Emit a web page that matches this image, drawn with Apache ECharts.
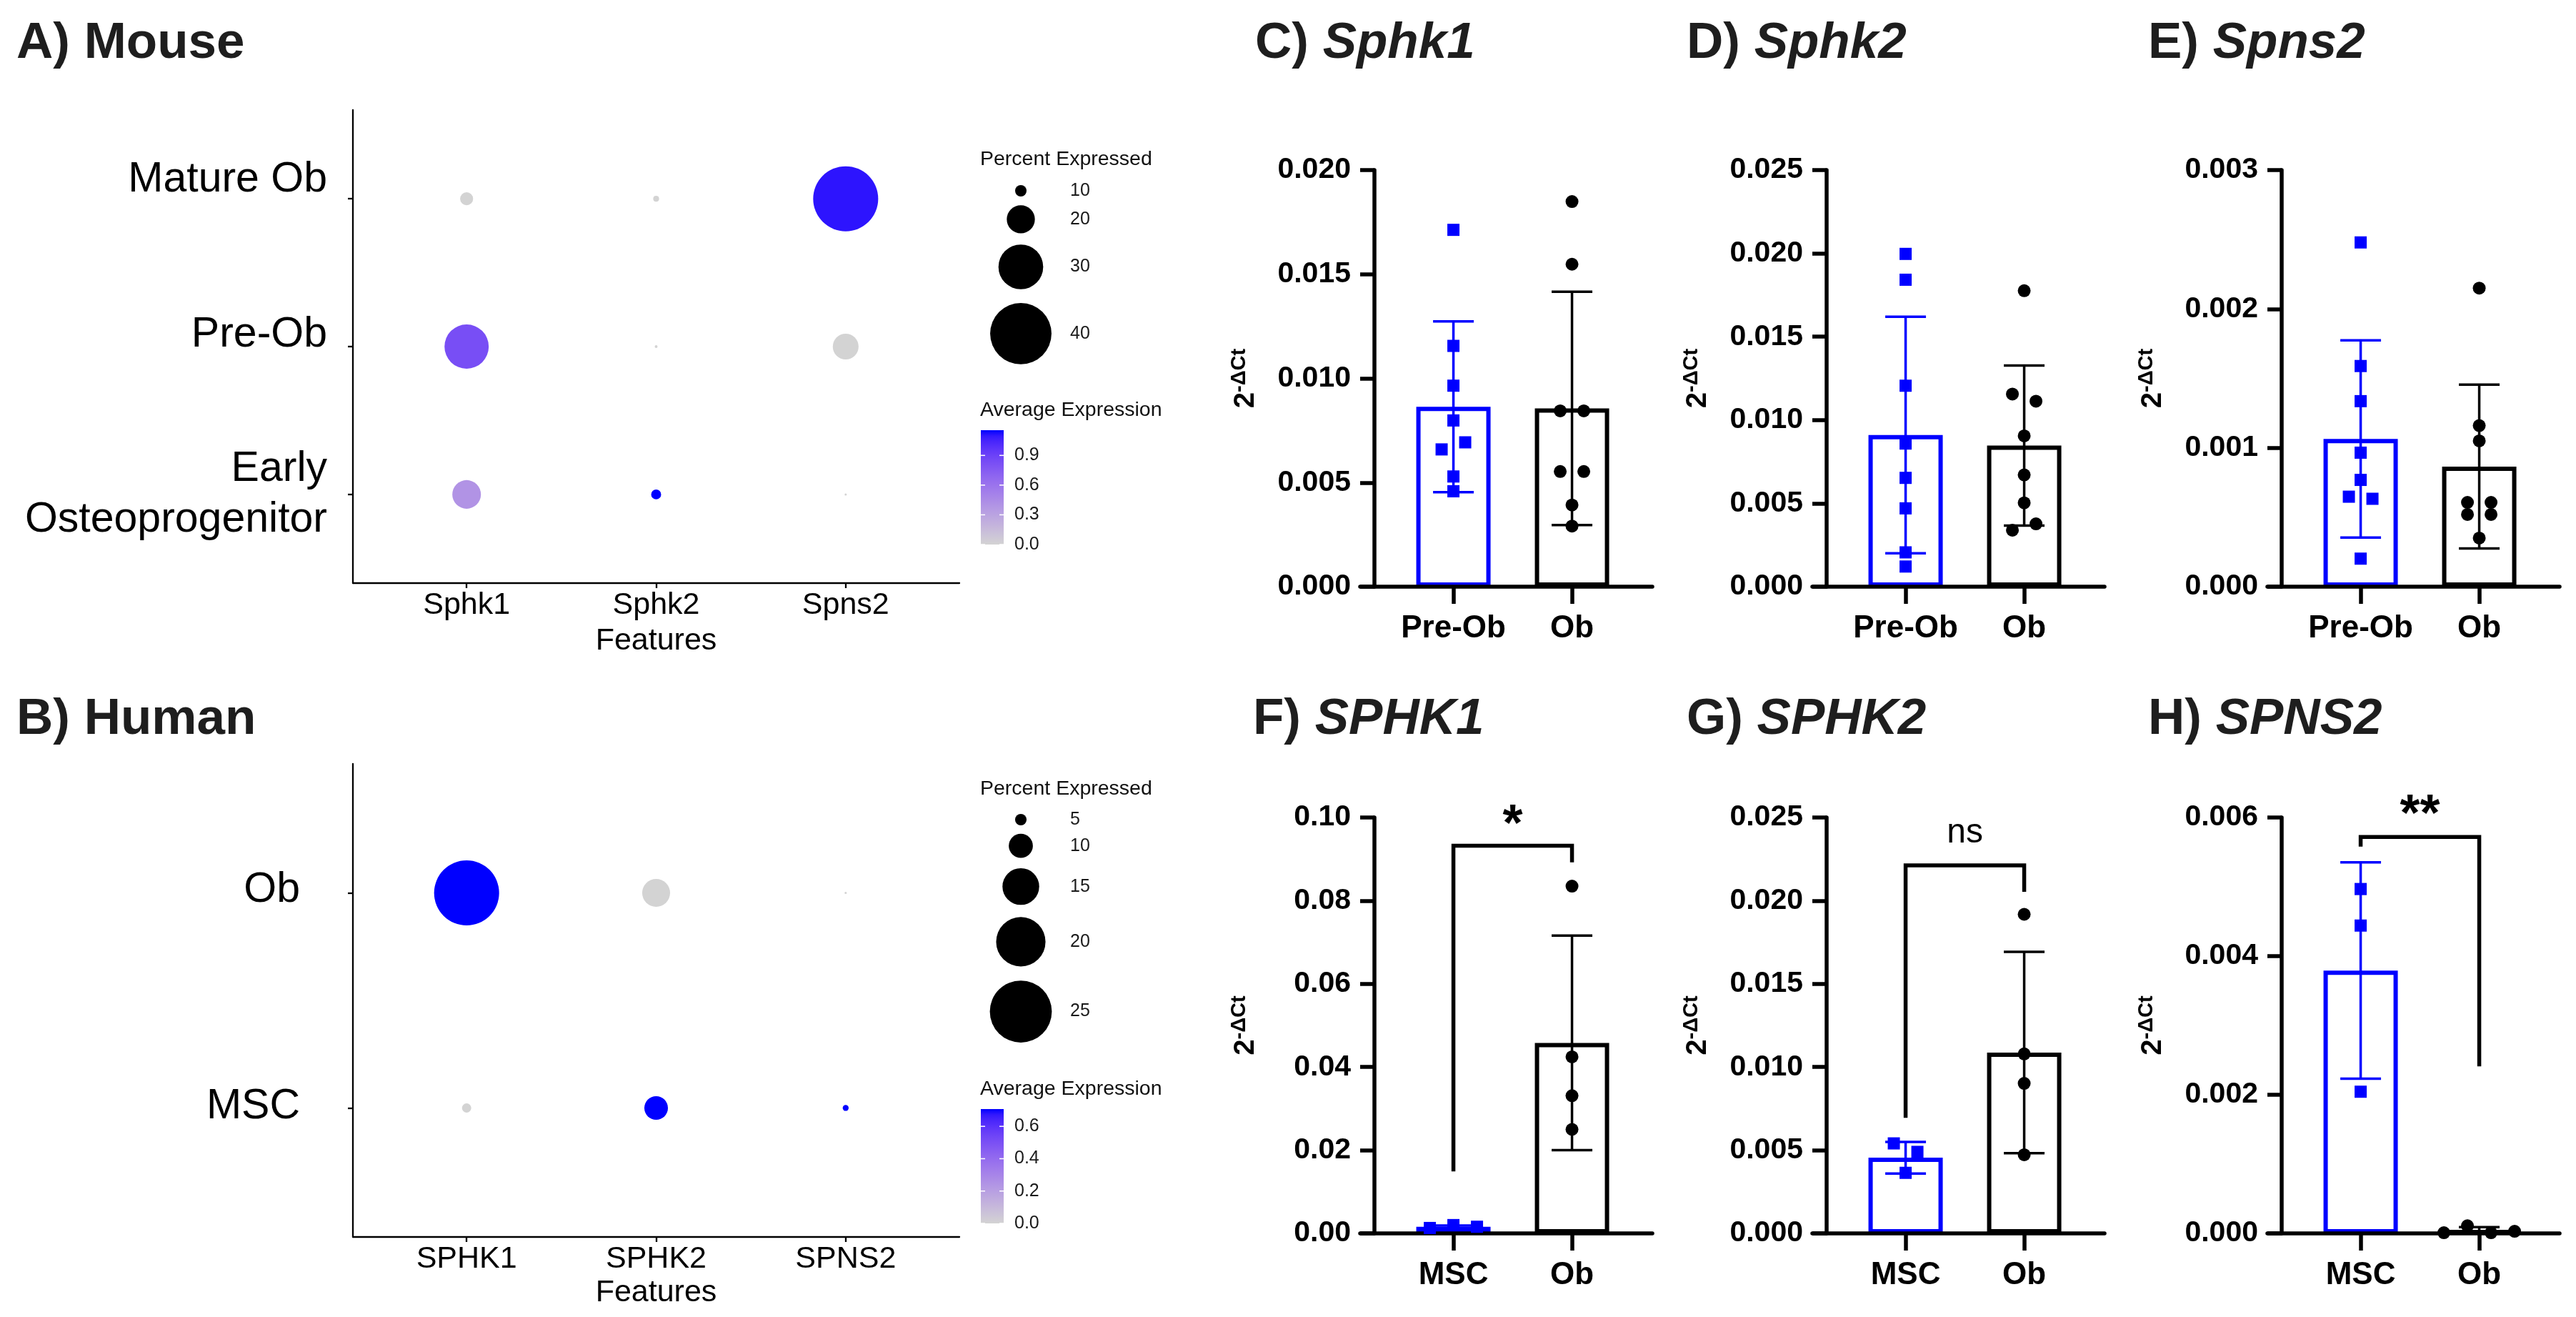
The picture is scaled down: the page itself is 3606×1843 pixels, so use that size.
<!DOCTYPE html>
<html><head><meta charset="utf-8">
<script src="https://cdn.jsdelivr.net/npm/echarts@6/dist/echarts.min.js"></script>
<style>html,body{margin:0;padding:0;background:#fff}#c{width:3606px;height:1843px}</style>
</head><body><div id="c"></div>
<script>
// ================= DATA =================
// Dot plots (Seurat DotPlot): percent expressed and scaled average expression
const mouseGenes = ['Sphk1', 'Sphk2', 'Spns2'];
const mouseCells = ['Mature Ob', 'Pre-Ob', 'Early\nOsteoprogenitor'];
const mousePct = [[10.9, 6.6, 42.2], [29.7, 4.8, 18.6], [20.3, 9.1, 3.1]];
const mouseAvg = [[0, 0, 1.11], [0.83, 0, 0], [0.40, 1.155, 0]];
const mouseSizeBreaks = [10, 20, 30, 40];
const mouseColorTicks = [0, 0.3, 0.6, 0.9];

const humanGenes = ['SPHK1', 'SPHK2', 'SPNS2'];
const humanCells = ['Ob', 'MSC'];
const humanPct = [[26.2, 11.5, 0.45], [4.1, 9.8, 2.8]];
const humanAvg = [[0.707, 0, 0], [0, 0.707, 0.707]];
const humanSizeBreaks = [5, 10, 15, 20, 25];
const humanColorTicks = [0, 0.2, 0.4, 0.6];

// qPCR bar panels (2^-dCt): groups, individual values, mean, SD
const groupsMouse = ['Pre-Ob', 'Ob'];
const groupsHuman = ['MSC', 'Ob'];

const sphk1PreOb = [0.01713, 0.01156, 0.00965, 0.00798, 0.00659, 0.00693, 0.00529, 0.00458];
const sphk1Ob    = [0.01849, 0.01548, 0.00844, 0.00844, 0.00553, 0.00553, 0.00392, 0.00291];
const sphk1Mean  = [0.00864, 0.00856];
const sphk1Sd    = [0.0041, 0.0056];

const sphk2PreOb = [0.01997, 0.01842, 0.01206, 0.00859, 0.00653, 0.00470, 0.00206, 0.00121];
const sphk2Ob    = [0.01776, 0.01156, 0.01113, 0.00905, 0.00671, 0.00503, 0.00339, 0.00377];
const sphk2Mean  = [0.00910, 0.00847];
const sphk2Sd    = [0.0071, 0.0048];

const spns2PreOb = [0.002479, 0.001589, 0.001336, 0.000965, 0.000769, 0.000648, 0.000633, 0.000202];
const spns2Ob    = [0.00215, 0.00116, 0.00105, 0.000607, 0.000607, 0.00052, 0.00052, 0.00035];
const spns2Mean  = [0.001064, 0.000865];
const spns2Sd    = [0.00071, 0.00059];

const SPHK1Msc  = [0.0013, 0.0020, 0.0016];
const SPHK1Ob   = [0.0835, 0.04245, 0.0331, 0.0250];
const SPHK1Mean = [0.0016, 0.0458];
const SPHK1Sd   = [0.0003, 0.0258];
const SPHK1Sig  = {top: 0.0932, leftEnd: 0.0149, rightEnd: 0.0892, textAt: 0.100, text: '*'};

const SPHK2Msc  = [0.00541, 0.0049, 0.00364];
const SPHK2Ob   = [0.01918, 0.01079, 0.00902, 0.00473];
const SPHK2Mean = [0.00455, 0.01087];
const SPHK2Sd   = [0.00095, 0.00605];
const SPHK2Sig  = {top: 0.02212, leftEnd: 0.00695, rightEnd: 0.02053, textAt: 0.0240, text: 'ns'};

const SPNS2Msc  = [0.004968, 0.004441, 0.002044];
const SPNS2Ob   = [0.00001, 0.00011, 0.00001, 0.00003];
const SPNS2Mean = [0.003792, 0.00004];
const SPNS2Sd   = [0.00156, 0.00005];
const SPNS2Sig  = {top: 0.00572, leftEnd: 0.00558, rightEnd: 0.00241, textAt: 0.00614, text: '**'};

// y-axis scales (max, tick step, decimals)
const scaleSphk1 = [0.020, 0.005, 3];
const scaleSphk2 = [0.025, 0.005, 3];
const scaleSpns2 = [0.003, 0.001, 3];
const scaleSPHK1 = [0.10, 0.02, 2];
const scaleSPHK2 = [0.025, 0.005, 3];
const scaleSPNS2 = [0.006, 0.002, 3];

// ================= HELPERS =================
const FONT = '"Liberation Sans", Arial, Helvetica, sans-serif';
const BLUE = '#0000FF', BLACK = '#000000', TITLE_COL = '#1e1e1e';

function s2l(c) { c /= 255; return c <= 0.04045 ? c / 12.92 : Math.pow((c + 0.055) / 1.055, 2.4); }
function l2s(c) { c = c <= 0.0031308 ? 12.92 * c : 1.055 * Math.pow(c, 1 / 2.4) - 0.055; return Math.round(Math.max(0, Math.min(1, c)) * 255); }
const WX = 0.95047, WY = 1, WZ = 1.08883;
function fLab(t) { return t > 0.008856 ? Math.cbrt(t) : 7.787 * t + 16 / 116; }
function fInv(t) { return t > 0.206893 ? t * t * t : (t - 16 / 116) / 7.787; }
function rgb2lab(rgb) {
  const r = s2l(rgb[0]), g = s2l(rgb[1]), b = s2l(rgb[2]);
  const X = 0.4124 * r + 0.3576 * g + 0.1805 * b, Y = 0.2126 * r + 0.7152 * g + 0.0722 * b, Z = 0.0193 * r + 0.1192 * g + 0.9505 * b;
  const fx = fLab(X / WX), fy = fLab(Y / WY), fz = fLab(Z / WZ);
  return [116 * fy - 16, 500 * (fx - fy), 200 * (fy - fz)];
}
function lab2rgb(lab) {
  const fy = (lab[0] + 16) / 116, fx = fy + lab[1] / 500, fz = fy - lab[2] / 200;
  const X = WX * fInv(fx), Y = WY * fInv(fy), Z = WZ * fInv(fz);
  const r = 3.2406 * X - 1.5372 * Y - 0.4986 * Z, g = -0.9689 * X + 1.8758 * Y + 0.0415 * Z, b = 0.0557 * X - 0.2040 * Y + 1.0570 * Z;
  return [l2s(r), l2s(g), l2s(b)];
}
const LOW = rgb2lab([211, 211, 211]), HIGH = rgb2lab([0, 0, 255]);
function ramp(t) {
  t = Math.max(0, Math.min(1, t));
  const c = lab2rgb([0, 1, 2].map(k => LOW[k] + t * (HIGH[k] - LOW[k])));
  return 'rgb(' + c.join(',') + ')';
}

const grids = [], xAxes = [], yAxes = [], series = [], titles = [];
function addGrid(g) { grids.push(g); return grids.length - 1; }

function addTitle(prefix, gene, left, top, italic) {
  titles.push({
    text: gene ? '{n|' + prefix + '}{i|' + gene + '}' : '{n|' + prefix + '}',
    left: left, top: top, padding: 0,
    textStyle: { rich: {
      n: { fontSize: 71, fontWeight: 'bold', fontFamily: FONT, color: TITLE_COL, lineHeight: 71 },
      i: { fontSize: 71, fontWeight: 'bold', fontStyle: italic ? 'italic' : 'normal', fontFamily: FONT, color: TITLE_COL, lineHeight: 71 }
    } }
  });
}
function addText(text, left, top, size) {
  titles.push({ text: text, left: left, top: top, padding: 0,
    textStyle: { fontSize: size, fontWeight: 'normal', fontFamily: FONT, color: '#111', lineHeight: size } });
}

// ---------- Dot plot panel ----------
function dotPanel(o) {
  const gi = addGrid({ left: 494, top: o.top, width: 849, height: o.h });
  const gv = o.genes.map((_, i) => i + 1), cv = o.cells.map((_, i) => i + 1);
  const rich = {};
  o.cells.forEach((c, i) => {
    rich['r' + i] = { fontSize: 59, lineHeight: 71, fontFamily: FONT, color: '#000', align: 'right', padding: [0, 0, (o.labelLift[i] || 0) * 2, 0] };
  });
  xAxes.push({ gridIndex: gi, type: 'value', min: 0.4, max: o.genes.length + 0.6,
    axisLine: { onZero: false, lineStyle: { color: '#000', width: 2.3 } },
    axisTick: { show: true, customValues: gv, length: 7, lineStyle: { color: '#000', width: 2.3 } },
    axisLabel: { customValues: gv, formatter: v => o.genes[Math.round(v) - 1], fontSize: 43, fontFamily: FONT, color: '#000', margin: 10 },
    splitLine: { show: false },
    name: 'Features', nameLocation: 'middle', nameGap: o.nameGap, nameMoveOverlap: false,
    nameTextStyle: { fontSize: 43, fontFamily: FONT, color: '#000' } });
  yAxes.push({ gridIndex: gi, type: 'value', min: 0.4, max: o.cells.length + 0.6, inverse: true,
    axisLine: { onZero: false, lineStyle: { color: '#000', width: 2.3 } },
    axisTick: { show: true, customValues: cv, length: 7, lineStyle: { color: '#000', width: 2.3 } },
    axisLabel: { customValues: cv,
      formatter: v => { const i = Math.round(v) - 1; return o.cells[i].split('\n').map(s => '{r' + i + '|' + s + '}').join('\n'); },
      rich: rich, fontSize: 59, lineHeight: 71, margin: o.labelMargin, fontFamily: FONT, color: '#000' },
    splitLine: { show: false } });
  const flat = o.pct.flat();
  const pmin = Math.min.apply(null, flat), pmax = Math.max.apply(null, flat);
  const size = p => Math.max(3, 91 * (p - pmin) / (pmax - pmin));
  const data = [];
  o.cells.forEach((c, r) => o.genes.forEach((g, k) => data.push({
    value: [k + 1, r + 1, o.pct[r][k], o.avg[r][k]],
    symbolSize: size(o.pct[r][k]),
    itemStyle: { color: ramp(o.avg[r][k] / o.vmax), opacity: 1 }
  })));
  series.push({ type: 'scatter', xAxisIndex: gi, yAxisIndex: gi, symbol: 'circle', data: data, silent: true, z: 3,
    itemStyle: { opacity: 1 } });

  // size legend
  addText('Percent Expressed', 1372, o.sizeTitleTop, 28.5);
  const lg = addGrid({ left: 1389, top: o.legTop, width: 80, height: o.legH });
  xAxes.push({ gridIndex: lg, type: 'value', min: -1, max: 1, show: false });
  yAxes.push({ gridIndex: lg, type: 'value', min: 0, max: o.legH, inverse: true, show: false });
  const ds = o.breaks.map(size), hs = ds.map(d => 1.15 * d + 8);
  let cy = o.firstKey;
  const ldata = o.breaks.map((b, i) => {
    if (i > 0) cy += (hs[i - 1] + hs[i]) / 2;
    return { value: [0, cy], symbolSize: ds[i],
      label: { show: true, position: 'right', distance: 69 - ds[i] / 2, formatter: String(b), fontSize: 25, fontFamily: FONT, color: '#1a1a1a' } };
  });
  series.push({ type: 'scatter', xAxisIndex: lg, yAxisIndex: lg, symbol: 'circle', itemStyle: { color: '#000', opacity: 1 }, data: ldata, silent: true });

  // colour legend
  addText('Average Expression', 1372, o.colTitleTop, 28.5);
  const cg = addGrid({ left: 1373, top: o.cbTop, width: 32, height: 160 });
  xAxes.push({ gridIndex: cg, type: 'value', min: 0, max: 1, show: false });
  yAxes.push({ gridIndex: cg, type: 'value', min: 0, max: o.vmax, position: 'right',
    axisLine: { show: false, onZero: false }, axisTick: { show: false }, splitLine: { show: false },
    axisLabel: { customValues: o.cticks, formatter: v => v.toFixed(1), fontSize: 25, margin: 15, fontFamily: FONT, color: '#1a1a1a' } });
  const stops = [];
  for (let i = 0; i <= 20; i++) stops.push({ offset: i / 20, color: ramp(i / 20) });
  series.push({ type: 'custom', xAxisIndex: cg, yAxisIndex: cg, data: [[0, o.vmax]], silent: true,
    renderItem: function (p, api) {
      const a = api.coord([0, 0]), b = api.coord([1, api.value(1)]);
      const ch = [{ type: 'rect', shape: { x: a[0], y: b[1], width: b[0] - a[0], height: a[1] - b[1] },
        style: { fill: new echarts.graphic.LinearGradient(0, 1, 0, 0, stops) } }];
      o.cticks.forEach(t => {
        const y = api.coord([0, t])[1];
        ch.push({ type: 'line', shape: { x1: a[0], y1: y, x2: a[0] + 6, y2: y }, style: { stroke: '#fff', lineWidth: 1.5 } });
        ch.push({ type: 'line', shape: { x1: b[0] - 6, y1: y, x2: b[0], y2: y }, style: { stroke: '#fff', lineWidth: 1.5 } });
      });
      return { type: 'group', children: ch };
    } });
}

// ---------- Bar (qPCR) panel ----------
const UNIT = 166, OFF = 0.666, GRIDW = 409, PADL = 20, SPREAD = 33;
function swarmOffsets(vals, yMax, hPx) {
  const pxPer = hPx / yMax;
  const idx = vals.map((v, i) => i).sort((a, b) => vals[a] - vals[b]);
  const res = new Array(vals.length).fill(0);
  let group = [idx[0]];
  const flush = () => { const g = group.slice().sort((a, b) => a - b); const n = g.length; g.forEach((k, j) => { res[k] = (j - (n - 1) / 2) * SPREAD; }); };
  for (let j = 1; j < idx.length; j++) {
    if ((vals[idx[j]] - vals[idx[j - 1]]) * pxPer < 16) group.push(idx[j]);
    else { flush(); group = [idx[j]]; }
  }
  flush();
  return res;
}
function barPanel(o) {
  const gi = addGrid({ left: o.axisX - PADL, top: o.top, width: GRIDW, height: o.h });
  const pos = i => OFF + i;
  const cols = [BLUE, BLACK];
  const yMax = o.scale[0], step = o.scale[1], dec = o.scale[2];
  xAxes.push({ gridIndex: gi, type: 'value', min: -PADL / UNIT, max: (GRIDW - PADL) / UNIT, z: 3,
    axisLine: { onZero: false, lineStyle: { color: '#000', width: 5.5 } },
    axisTick: { show: true, customValues: [pos(0), pos(1)], length: 24, lineStyle: { color: '#000', width: 5.5 } },
    axisLabel: { customValues: [pos(0), pos(1)], formatter: v => o.groups[Math.round(v - OFF)], fontSize: 44, fontWeight: 'bold', fontFamily: FONT, color: '#000', margin: 37 },
    splitLine: { show: false } });
  // y axis sits at x = 0 of the x scale, i.e. PADL px inside the grid's left edge
  yAxes.push({ gridIndex: gi, type: 'value', min: 0, max: yMax, interval: step, z: 3, offset: -PADL,
    axisLine: { show: true, onZero: false, lineStyle: { color: '#000', width: 5.5 } },
    axisTick: { show: true, length: 20, lineStyle: { color: '#000', width: 5.5 } },
    axisLabel: { formatter: v => v.toFixed(dec), fontSize: 41, fontWeight: 'bold', fontFamily: FONT, color: '#000', margin: 33 },
    splitLine: { show: false },
    name: '{b|2}{s|-ΔCt}', nameLocation: 'middle', nameRotate: 90, nameGap: 160, nameMoveOverlap: false,
    nameTextStyle: { rich: {
      b: { fontSize: 40, fontWeight: 'bold', fontFamily: FONT, color: '#000', lineHeight: 44, verticalAlign: 'bottom' },
      s: { fontSize: 29, fontWeight: 'bold', fontFamily: FONT, color: '#000', lineHeight: 29, verticalAlign: 'top' } } } });
  series.push({ type: 'bar', xAxisIndex: gi, yAxisIndex: gi, barWidth: 104, z: 2, silent: true,
    data: o.mean.map((m, i) => ({ value: [pos(i), m], itemStyle: { color: '#ffffff', borderColor: cols[i], borderWidth: 6, opacity: 1 } })) });
  series.push({ type: 'custom', xAxisIndex: gi, yAxisIndex: gi, z: 4, silent: true,
    data: o.mean.map((m, i) => [pos(i), m, o.sd[i], i]),
    renderItem: function (p, api) {
      const x = api.value(0), m = api.value(1), s = api.value(2), c = cols[api.value(3)];
      const t = api.coord([x, m + s]), b = api.coord([x, Math.max(m - s, 0)]), hw = 28.5;
      const st = { stroke: c, lineWidth: 3.5 };
      return { type: 'group', children: [
        { type: 'line', shape: { x1: t[0], y1: t[1], x2: b[0], y2: b[1] }, style: st },
        { type: 'line', shape: { x1: t[0] - hw, y1: t[1], x2: t[0] + hw, y2: t[1] }, style: st },
        { type: 'line', shape: { x1: b[0] - hw, y1: b[1], x2: b[0] + hw, y2: b[1] }, style: st }
      ] };
    } });
  o.vals.forEach((vals, g) => {
    const offs = swarmOffsets(vals, yMax, o.h);
    series.push({ type: 'scatter', xAxisIndex: gi, yAxisIndex: gi, z: 5, silent: true,
      symbol: g === 0 ? 'rect' : 'circle', symbolSize: g === 0 ? 17 : 18,
      itemStyle: { color: cols[g], opacity: 1 },
      data: vals.map((v, i) => [pos(g) + offs[i] / UNIT, v]) });
  });
  if (o.sig) {
    const sg = o.sig;
    series.push({ type: 'custom', xAxisIndex: gi, yAxisIndex: gi, z: 4, silent: true, clip: false,
      data: [[pos(0), pos(1), sg.top, sg.leftEnd, sg.rightEnd, sg.textAt]],
      renderItem: function (p, api) {
        const x0 = api.value(0), x1 = api.value(1);
        const a = api.coord([x0, api.value(3)]), b = api.coord([x0, api.value(2)]), c = api.coord([x1, api.value(2)]), d = api.coord([x1, api.value(4)]);
        const ty = api.coord([x0, api.value(5)])[1];
        const star = sg.text.indexOf('*') >= 0;
        return { type: 'group', children: [
          { type: 'polyline', shape: { points: [a, b, c, d] }, style: { stroke: '#000', lineWidth: 5.5, fill: null, lineJoin: 'miter' } },
          { type: 'text', x: (b[0] + c[0]) / 2, y: ty + (star ? 12 : -2),
            style: { text: sg.text, fontSize: star ? 72 : 48, fontWeight: star ? 'bold' : 'normal', fontFamily: FONT, fill: '#000', align: 'center', verticalAlign: 'middle' } }
        ] };
      } });
  }
}

// ================= BUILD =================
addTitle('A) Mouse', null, 23, 26, false);
addTitle('B) Human', null, 23, 972, false);
addTitle('C) ', 'Sphk1', 1757, 26, true);
addTitle('D) ', 'Sphk2', 2361, 26, true);
addTitle('E) ', 'Spns2', 3007, 26, true);
addTitle('F) ', 'SPHK1', 1754, 972, true);
addTitle('G) ', 'SPHK2', 2361, 972, true);
addTitle('H) ', 'SPNS2', 3007, 972, true);

dotPanel({ genes: mouseGenes, cells: mouseCells, pct: mousePct, avg: mouseAvg, vmax: 1.155,
  top: 154, h: 662, labelMargin: 36, nameGap: 60, labelLift: [26, 16, 0],
  breaks: mouseSizeBreaks, sizeTitleTop: 209, legTop: 240, legH: 280, firstKey: 27,
  colTitleTop: 560, cbTop: 602, cticks: mouseColorTicks });
dotPanel({ genes: humanGenes, cells: humanCells, pct: humanPct, avg: humanAvg, vmax: 0.707,
  top: 1069, h: 662, labelMargin: 74, nameGap: 57, labelLift: [4, 2],
  breaks: humanSizeBreaks, sizeTitleTop: 1090, legTop: 1120, legH: 360, firstKey: 27,
  colTitleTop: 1510, cbTop: 1552, cticks: humanColorTicks });

barPanel({ axisX: 1924, top: 238, h: 583, groups: groupsMouse, vals: [sphk1PreOb, sphk1Ob], mean: sphk1Mean, sd: sphk1Sd, scale: scaleSphk1 });
barPanel({ axisX: 2557, top: 238, h: 583, groups: groupsMouse, vals: [sphk2PreOb, sphk2Ob], mean: sphk2Mean, sd: sphk2Sd, scale: scaleSphk2 });
barPanel({ axisX: 3194, top: 238, h: 583, groups: groupsMouse, vals: [spns2PreOb, spns2Ob], mean: spns2Mean, sd: spns2Sd, scale: scaleSpns2 });
barPanel({ axisX: 1924, top: 1144, h: 582, groups: groupsHuman, vals: [SPHK1Msc, SPHK1Ob], mean: SPHK1Mean, sd: SPHK1Sd, scale: scaleSPHK1, sig: SPHK1Sig });
barPanel({ axisX: 2557, top: 1144, h: 582, groups: groupsHuman, vals: [SPHK2Msc, SPHK2Ob], mean: SPHK2Mean, sd: SPHK2Sd, scale: scaleSPHK2, sig: SPHK2Sig });
barPanel({ axisX: 3194, top: 1144, h: 582, groups: groupsHuman, vals: [SPNS2Msc, SPNS2Ob], mean: SPNS2Mean, sd: SPNS2Sd, scale: scaleSPNS2, sig: SPNS2Sig });

const chart = echarts.init(document.getElementById('c'), null, { renderer: 'canvas', width: 3606, height: 1843 });
chart.setOption({
  backgroundColor: '#ffffff', animation: false,
  title: titles, grid: grids, xAxis: xAxes, yAxis: yAxes, series: series
});
</script>
</body></html>
